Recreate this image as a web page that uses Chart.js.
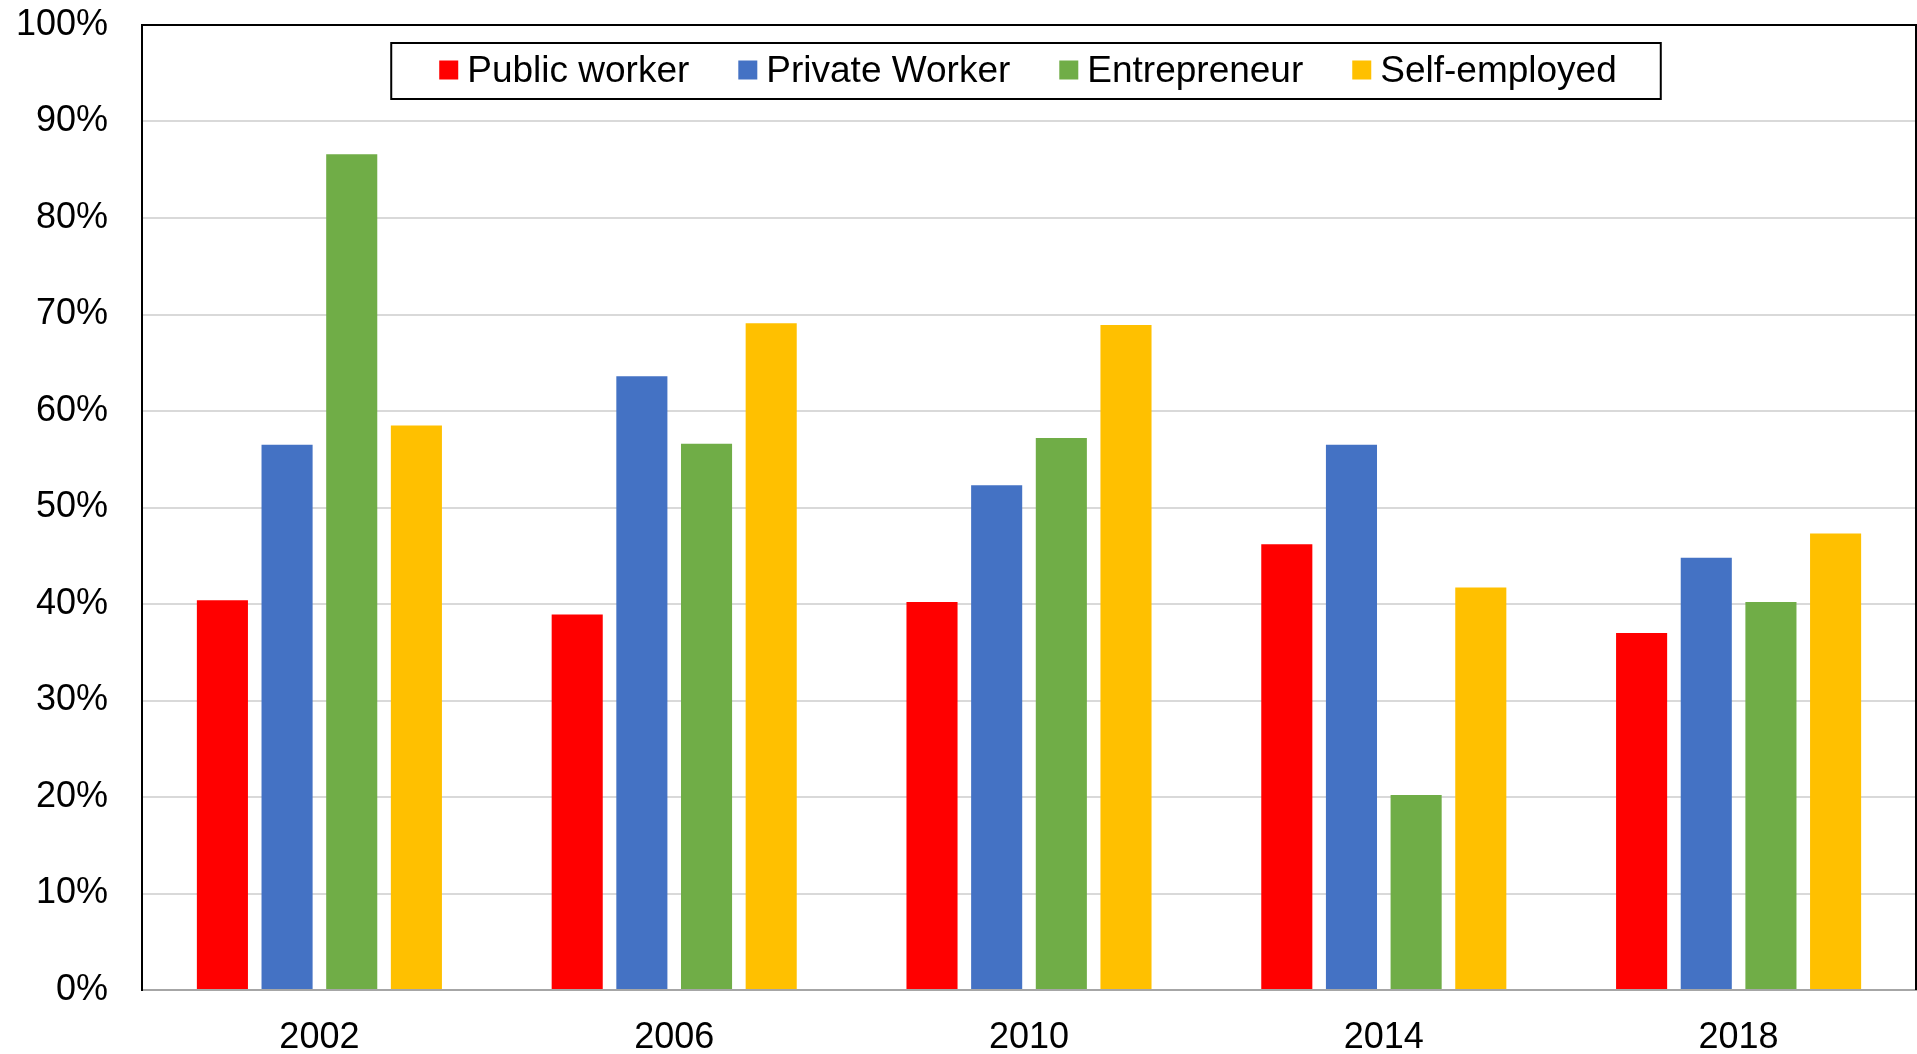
<!DOCTYPE html>
<html>
<head>
<meta charset="utf-8">
<script src="https://cdn.jsdelivr.net/npm/chart.js@4/dist/chart.umd.min.js"></script>
<style>
  html, body { margin: 0; padding: 0; background: #fff; }
  #wrap { width: 1917px; height: 1054px; }
</style>
</head>
<body>
<div id="wrap"><canvas id="shareChart" width="1917" height="1054"></canvas></div>
<script>
// survey years and share per worker type (%)
const years = ['2002', '2006', '2010', '2014', '2018'];
const seriesNames = ['Public worker', 'Private Worker', 'Entrepreneur', 'Self-employed'];
const publicWorker = [40.4, 38.9, 40.2, 46.2, 37.0];
const privateWorker = [56.5, 63.6, 52.3, 56.5, 44.8];
const entrepreneur = [86.6, 56.6, 57.2, 20.2, 40.2];
const selfEmployed = [58.5, 69.1, 68.9, 41.7, 47.3];
const yTicks = [0, 10, 20, 30, 40, 50, 60, 70, 80, 90, 100];

const colors = ['#FF0000', '#4472C4', '#70AD47', '#FFC000'];
const FONT = '"Liberation Sans", Arial, sans-serif';

// black frame on top and right of the plot area
const plotFrame = {
  id: 'plotFrame',
  afterDraw(chart) {
    const { ctx, chartArea: a } = chart;
    ctx.save();
    ctx.strokeStyle = '#000';
    ctx.lineWidth = 2;
    ctx.beginPath();
    ctx.moveTo(a.left - 1, a.top);
    ctx.lineTo(a.right, a.top);
    ctx.lineTo(a.right, a.bottom);
    ctx.stroke();
    ctx.restore();
  }
};

// legend in a bordered box inside the plot area
const boxedLegend = {
  id: 'boxedLegend',
  afterDraw(chart) {
    const { ctx, chartArea: a } = chart;
    ctx.save();
    ctx.font = '37px ' + FONT;
    const items = chart.data.datasets.map(ds => ({
      label: ds.label,
      color: ds.backgroundColor,
      w: ctx.measureText(ds.label).width
    }));
    const sq = 19, gapText = 9, gapItem = 49, padX = 46, h = 56;
    const content = items.reduce((s, it) => s + sq + gapText + it.w, 0) + gapItem * (items.length - 1);
    const boxW = content + padX * 2;
    const left = (a.left + a.right) / 2 - boxW / 2 - 3;
    const top = a.top + 18;

    ctx.fillStyle = '#fff';
    ctx.fillRect(left, top, boxW, h);
    ctx.strokeStyle = '#000';
    ctx.lineWidth = 2;
    ctx.strokeRect(left, top, boxW, h);

    const cy = top + h / 2;
    let x = left + padX + 2;
    ctx.textBaseline = 'middle';
    ctx.textAlign = 'left';
    items.forEach(it => {
      ctx.fillStyle = it.color;
      ctx.fillRect(x, cy - sq / 2 - 1, sq, sq);
      x += sq + gapText;
      ctx.fillStyle = '#000';
      ctx.fillText(it.label, x, cy + 1);
      x += it.w + gapItem;
    });
    ctx.restore();
  }
};

const seriesValues = [publicWorker, privateWorker, entrepreneur, selfEmployed];

new Chart(document.getElementById('shareChart'), {
  type: 'bar',
  data: {
    labels: years,
    datasets: seriesNames.map((name, i) => ({
      label: name,
      data: seriesValues[i],
      backgroundColor: colors[i],
      borderWidth: 0,
      categoryPercentage: 0.729,
      barPercentage: 0.79
    }))
  },
  options: {
    responsive: false,
    animation: false,
    devicePixelRatio: 1,
    layout: { padding: { top: 25, right: 1, left: 0, bottom: 0 } },
    plugins: {
      legend: { display: false },
      tooltip: { enabled: false }
    },
    scales: {
      x: {
        grid: { display: false, drawTicks: false },
        border: { display: true, color: '#a6a6a6', width: 2 },
        ticks: {
          color: '#000',
          font: { family: FONT, size: 36 },
          padding: 26,
          maxRotation: 0
        },
        afterFit(scale) { scale.height = 64; }
      },
      y: {
        min: 0,
        max: 100,
        afterBuildTicks(scale) { scale.ticks = yTicks.map(v => ({ value: v })); },
        grid: { color: '#d9d9d9', lineWidth: 2, drawTicks: false },
        border: { display: true, color: '#000', width: 2 },
        ticks: {
          color: '#000',
          font: { family: FONT, size: 36 },
          padding: 34,
          callback: v => v + '%'
        },
        afterFit(scale) {
          scale.width = 142;
          // the top/bottom labels may overhang the plot edge
          scale.paddingTop = 0;
          scale.paddingBottom = 0;
        }
      }
    }
  },
  plugins: [plotFrame, boxedLegend]
});
</script>
</body>
</html>
